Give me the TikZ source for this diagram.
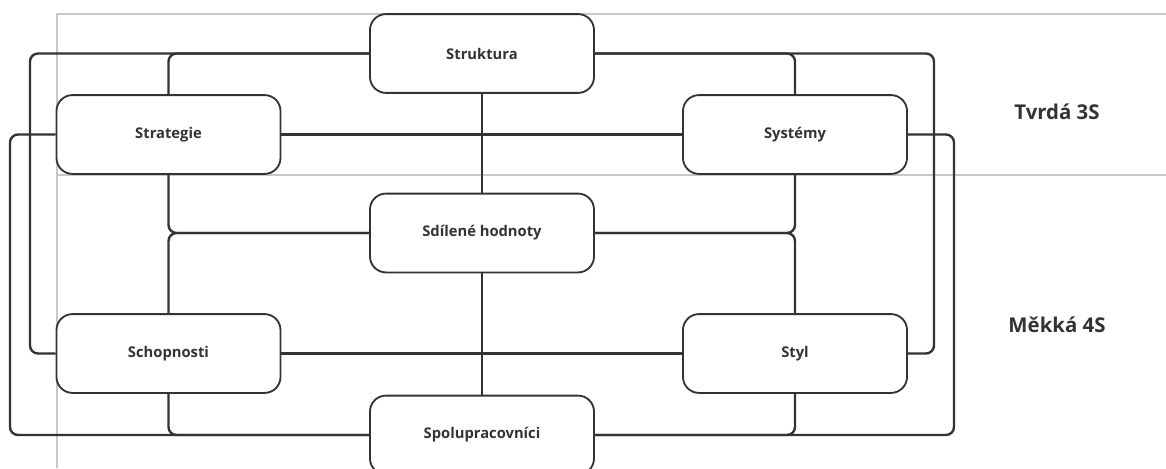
\documentclass[tikz,border=0pt]{standalone}
\usepackage{fontspec}
\setmainfont{Open Sans}
\usetikzlibrary{positioning}
\definecolor{SevenInk}{HTML}{333333}
\definecolor{SevenFrame}{HTML}{C8C8C8}
\tikzset{
  wire/.style={draw=SevenInk,line width=1.7pt},
  bus/.style={rounded corners=0.2cm},
  field/.style={draw=SevenInk,line width=1.3pt,fill=white,rounded corners=0.4cm,
    minimum width=5.6cm,minimum height=1.97cm,
    font=\bfseries\fontsize{10.5}{12}\selectfont,text=SevenInk},
  frameline/.style={draw=SevenFrame,line width=1.1pt},
  grouplabel/.style={font=\bfseries\fontsize{14.5}{17}\selectfont,text=SevenInk}
}
\newcommand{\sfield}[3]{%
  \node[field] (#1) at #2 {#3};
}

\begin{document}
\begin{tikzpicture}[x=0.025cm,y=-0.025cm]
  \useasboundingbox (0,0) rectangle (1166,468);
  \draw[frameline] (1166,14) -- (57,14) -- (57,468);
  \draw[frameline] (57,175) -- (1166,175);

  \sfield{struktura}{(482,53.5)}{Struktura}
  \sfield{strategie}{(168.5,134.5)}{Strategie}
  \sfield{systemy}{(795,134.5)}{Systémy}
  \sfield{sdilene}{(482,233)}{Sdílené hodnoty}
  \sfield{schopnosti}{(168.5,353.5)}{Schopnosti}
  \sfield{styl}{(795,353.5)}{Styl}
  \sfield{spolu}{(482,435)}{Spolupracovníci}

  \coordinate (louter) at (10,0);
  \coordinate (linner) at (30,0);
  \coordinate (rinner) at (934,0);
  \coordinate (router) at (954,0);

  % outer buses
  \draw[wire,bus] (struktura.west) -- (struktura.west -| linner) -- (schopnosti.west -| linner) -- (schopnosti.west);
  \draw[wire,bus] (struktura.west) -| (strategie.north);
  \draw[wire,bus] (strategie.west) -- (strategie.west -| louter) -- (spolu.west -| louter) -- (spolu.west);
  \draw[wire,bus] (schopnosti.south) |- (spolu.west);
  \draw[wire,bus] (struktura.east) -- (struktura.east -| rinner) -- (styl.east -| rinner) -- (styl.east);
  \draw[wire,bus] (struktura.east) -| (systemy.north);
  \draw[wire,bus] (systemy.east) -- (systemy.east -| router) -- (spolu.east -| router) -- (spolu.east);
  \draw[wire,bus] (styl.south) |- (spolu.east);

  % straight links
  \draw[wire] (strategie.east) -- (systemy.west);
  \draw[wire] (schopnosti.east) -- (styl.west);
  \draw[wire] (struktura.south) -- (sdilene.north);
  \draw[wire] (sdilene.south) -- (spolu.north);

  % shared values
  \draw[wire,bus] (strategie.south) |- (sdilene.west);
  \draw[wire,bus] (schopnosti.north) |- (sdilene.west);
  \draw[wire,bus] (systemy.south) |- (sdilene.east);
  \draw[wire,bus] (styl.north) |- (sdilene.east);

  \node[grouplabel] (hard) at (1057,112) {Tvrdá 3S};
  \node[grouplabel] (soft) at (1057,325) {Měkká 4S};
\end{tikzpicture}
\end{document}
